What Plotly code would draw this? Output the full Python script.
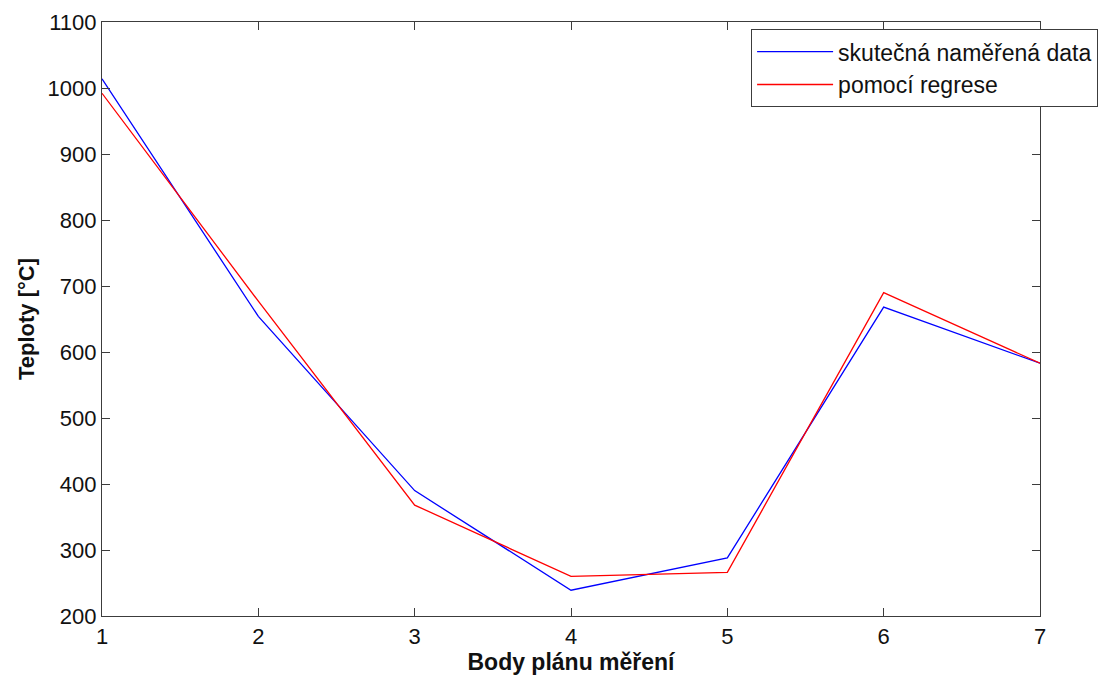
import plotly.graph_objects as go

x_points = [1, 2, 3, 4, 5, 6, 7]
measured = [1014, 654, 390, 239, 288, 668, 583]
regression = [992, 677, 368, 260, 266, 690, 583]
name_measured = "skutečná naměřená data"
name_regression = "pomocí regrese"
y_ticks = [200, 300, 400, 500, 600, 700, 800, 900, 1000, 1100]

font_family = "Liberation Sans, Arial, sans-serif"

fig = go.Figure()
fig.add_trace(go.Scatter(x=x_points, y=measured, mode="lines", name=name_measured,
                         line=dict(color="#0000ff", width=1.3)))
fig.add_trace(go.Scatter(x=x_points, y=regression, mode="lines", name=name_regression,
                         line=dict(color="#ff0000", width=1.3)))

axis_common = dict(showgrid=False, zeroline=False, showline=True, linecolor="#3c3c3c",
                   linewidth=1.3, mirror="ticks", ticks="inside", ticklen=8,
                   tickcolor="#3c3c3c", tickwidth=1, automargin=False,
                   tickfont=dict(family=font_family, size=22, color="#111"))

fig.update_layout(
    width=1109, height=680,
    margin=dict(l=94, r=77, t=14, b=72),
    paper_bgcolor="white", plot_bgcolor="white",
    font=dict(family=font_family, color="#111"),
    xaxis=dict(range=[1, 7], tickvals=x_points, **axis_common,
               title=dict(text="<b>Body plánu měření</b>", font=dict(size=23), standoff=4)),
    yaxis=dict(range=[200, 1100], tickvals=y_ticks, **axis_common,
               title=dict(text="<b>Teploty [°C]</b>", font=dict(size=22), standoff=6)),
    legend=dict(x=0.692, y=0.988, xanchor="left", yanchor="top",
                bgcolor="white", bordercolor="#3c3c3c", borderwidth=1,
                font=dict(family=font_family, size=23, color="#111"),
                itemwidth=76, tracegroupgap=0),
    showlegend=True,
)

fig.write_html("out.html")
